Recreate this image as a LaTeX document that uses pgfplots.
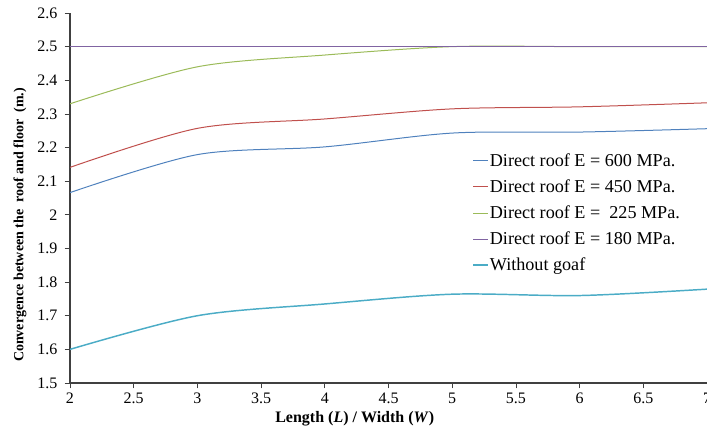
\documentclass[border=0pt]{standalone}
\usepackage{pgfplots}
\pgfplotsset{compat=1.18}
\usepackage{fontspec}
\setmainfont{Liberation Serif}

\definecolor{cblue}{HTML}{4F81BD}
\definecolor{cred}{HTML}{C0504D}
\definecolor{cgreen}{HTML}{9BBB59}
\definecolor{cpurple}{HTML}{8064A2}
\definecolor{ccyan}{HTML}{4BACC6}
\definecolor{axgray}{HTML}{404040}

\begin{document}
\begin{tikzpicture}
\begin{axis}[%
	scale only axis,
	width=477.75pt,
	height=277.5pt,
	xmin=2, xmax=7,
	ymin=1.5, ymax=2.6,
	xtick={2,2.5,...,7},
	ytick={1.5,1.6,...,2.6},
	axis x line=bottom,
	axis y line=left,
	axis line style={-, draw=axgray, line width=0.9pt},
	tick align=outside,
	major tick length=4pt,
	tick style={draw=axgray, line width=0.6pt},
	/pgf/number format/assume math mode=true,
	/pgf/number format/fixed,
	/pgf/number format/precision=1,
	ticklabel style={font=\fontsize{12}{14}\selectfont},
	yticklabel style={xshift=-2pt},
	xlabel={\textbf{Length (\textit{L}) / Width (\textit{W})}},
	ylabel={\textbf{Convergence between the\ \ roof and floor\ \ (m.)}},
	xlabel style={font=\fontsize{12}{14}\selectfont, at={(rel axis cs:0.447,0)}, anchor=north, yshift=-18pt},
	ylabel style={font=\fontsize{10.5}{12}\selectfont, at={(rel axis cs:-0.0785,0.427)}, anchor=center},
	legend style={draw=none, fill=none, at={(rel axis cs:0.625,0.632)}, anchor=north west,
		font=\fontsize{13.6}{15}\selectfont, row sep=6.5pt,
		nodes={inner sep=1pt}},
	legend cell align=left,
	legend image code/.code={\draw[#1] (0pt,0pt) -- (11pt,0pt);},
	every axis plot/.append style={smooth, no marks},
]
\coordinate (sw) at (rel axis cs:0,0);
\coordinate (ne) at (rel axis cs:1,1);

%%% E = 600 MPa
\addplot[cblue, line width=0.75pt] table {
x y
2 2.066
3 2.179
4 2.202
5 2.243
6 2.246
7 2.256
};
\addlegendentry{Direct roof E = 600 MPa.}

%%% E = 450 MPa
\addplot[cred, line width=0.75pt] table {
x y
2 2.141
3 2.257
4 2.285
5 2.315
6 2.321
7 2.333
};
\addlegendentry{Direct roof E = 450 MPa.}

%%% E = 225 MPa
\addplot[cgreen, line width=0.75pt] table {
x y
2 2.330
3 2.440
4 2.475
5 2.500
6 2.500
7 2.500
};
\addlegendentry{Direct roof E =\ \ 225 MPa.}

%%% E = 180 MPa
\addplot[cpurple, line width=0.75pt] table {
x y
2 2.5
3 2.5
4 2.5
5 2.5
6 2.5
7 2.5
};
\addlegendentry{Direct roof E = 180 MPa.}

%%% no goaf
\addplot[ccyan, line width=1.1pt] table {
x y
2 1.600
3 1.700
4 1.735
5 1.764
6 1.760
7 1.779
};
\addlegendentry{Without goaf}

\end{axis}
\pgfresetboundingbox
\path[use as bounding box] ([xshift=-52.5pt,yshift=-35.25pt]sw) rectangle ([yshift=9.75pt]ne);
\end{tikzpicture}
\end{document}
